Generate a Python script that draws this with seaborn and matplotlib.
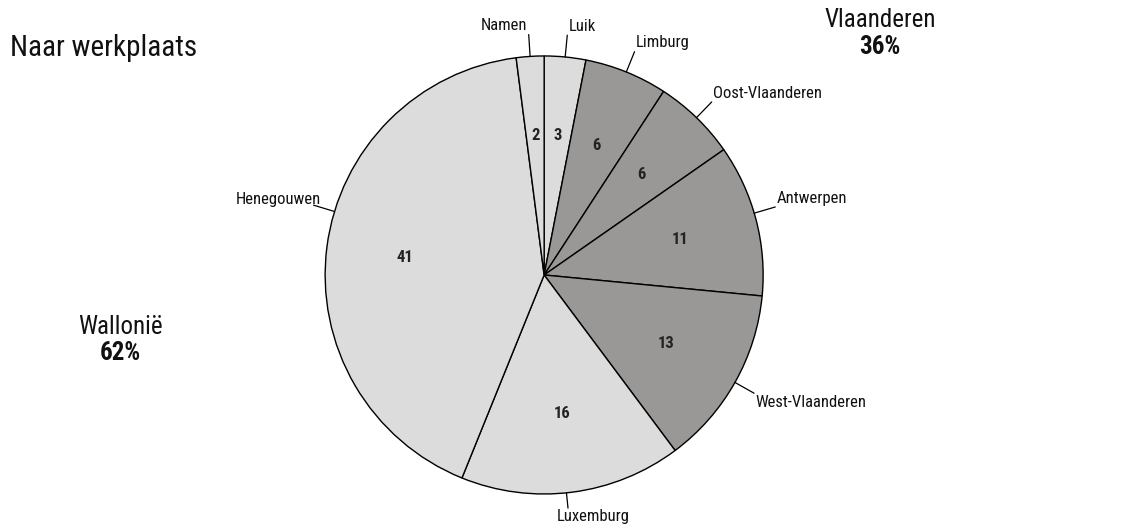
import numpy as np
import matplotlib
matplotlib.use("Agg")
import matplotlib.pyplot as plt
from matplotlib import font_manager as fm
import seaborn as sns

# provinces clockwise from the top
provinces = ["Luik", "Limburg", "Oost-Vlaanderen", "Antwerpen",
             "West-Vlaanderen", "Luxemburg", "Henegouwen", "Namen"]
values = [3, 6, 6, 11, 13, 16, 41, 2]
regions = ["W", "V", "V", "V", "V", "W", "W", "W"]
region_names = {"W": "Wallonië", "V": "Vlaanderen"}
region_pct = {"W": "62%", "V": "36%"}
title = "Naar werkplaats"

sns.set_theme(style="white")


def pick_narrow_font():
    fonts = fm.fontManager.ttflist
    names = {f.name for f in fonts}
    for cand in ["Liberation Sans Narrow", "Arial Narrow", "Roboto Condensed",
                 "Open Sans Condensed"]:
        if cand in names:
            return cand, "normal"
    for fam in ["DejaVu Sans", "Roboto", "Open Sans", "Noto Sans"]:
        if any(f.name == fam and f.stretch in ("condensed", "semi-condensed", 500, 300)
               for f in fonts):
            return fam, "condensed"
    return "Liberation Sans", "normal"


fam, stretch = pick_narrow_font()
plt.rcParams["font.family"] = [fam, "DejaVu Sans"]
plt.rcParams["font.stretch"] = stretch

colors = {"W": "#dcdcdc", "V": "#999896"}
fig = plt.figure(figsize=(11.47, 5.29), dpi=100)
ax = fig.add_axes([0.2834, 0.0662, 0.382, 0.828])

wedges, _, autotexts = ax.pie(
    values, startangle=90, counterclock=False,
    colors=[colors[r] for r in regions],
    wedgeprops=dict(edgecolor="black", linewidth=1.0),
    autopct=lambda p: f"{p * sum(values) / 100:.0f}", pctdistance=0.64,
    textprops=dict(fontsize=12, fontweight="bold", color="#222222"))
ax.set_xlim(-1, 1)
ax.set_ylim(-1, 1)
ax.set_aspect("equal")

# leader lines and province names
angle_shift = {"Henegouwen": -9.5, "Antwerpen": 1.7, "Luxemburg": -1.5}
for w, name in zip(wedges, provinces):
    ang = np.deg2rad((w.theta1 + w.theta2) / 2 + angle_shift.get(name, 0))
    c, s = np.cos(ang), np.sin(ang)
    r = 1.07 if s < -0.9 else 1.1
    ax.plot([c, r * c], [s, r * s], color="black", lw=0.9, clip_on=False)
    ha = "left" if c > 0 else "right"
    dx = 1 if c > 0 else -1
    if s > 0.5:
        va = "bottom"
    elif s < -0.9:
        va, dx = "top", -8
    elif s < -0.3:
        va = "top"
    else:
        va, dx = ("bottom", dx) if c > 0 else ("baseline", 5)
    ax.annotate(name, (r * c, r * s), xytext=(dx, 1 if s > 0 else -1),
                textcoords="offset points", ha=ha, va=va, fontsize=12,
                color="#111111", annotation_clip=False)

fig.text(0.009, 0.91, title, fontsize=21, ha="left", va="center", color="#111111")
fig.text(0.105, 0.382, region_names["W"], fontsize=18, ha="center", va="center", color="#111111")
fig.text(0.105, 0.333, region_pct["W"], fontsize=18, fontweight="bold", ha="center", va="center", color="#111111")
fig.text(0.767, 0.963, region_names["V"], fontsize=18, ha="center", va="center", color="#111111")
fig.text(0.767, 0.911, region_pct["V"], fontsize=18, fontweight="bold", ha="center", va="center", color="#111111")

fig.savefig("out.png", dpi=100, facecolor="white")
